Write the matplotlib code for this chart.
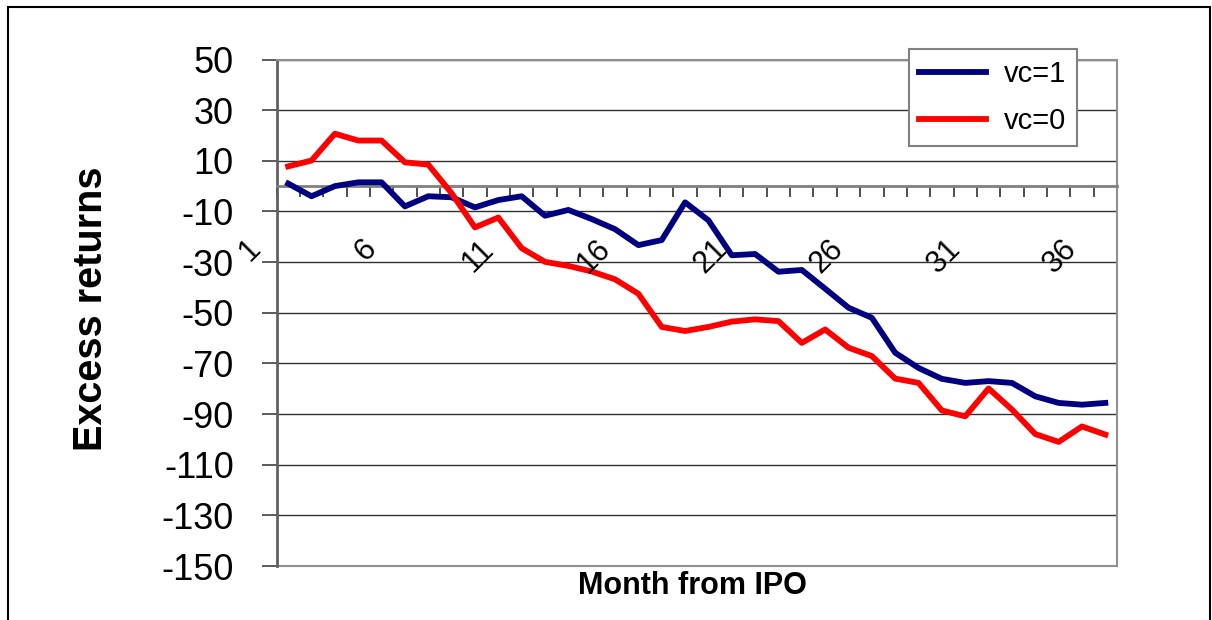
import numpy as np
import matplotlib
matplotlib.use('Agg')
import matplotlib.pyplot as plt
from matplotlib.transforms import ScaledTranslation
from matplotlib.patches import Rectangle

plt.rcParams['font.family'] = ['Liberation Sans', 'DejaVu Sans']
plt.rcParams['axes.unicode_minus'] = False

# ---- data ----
months = list(range(1, 37))
vc1 = [1, -4, 0, 1.5, 1.5, -8, -4, -4.4, -8.4, -5.5,
       -4, -11.7, -9.4, -13, -17, -23.3, -21.3, -6.4, -13.5, -27.3,
       -26.8, -33.8, -33.1, -40.5, -48, -52, -65.8, -71.8, -76.1, -77.7,
       -77, -77.7, -83, -85.6, -86.3, -85.6]
vc0 = [7.8, 10.1, 20.7, 18, 18, 9.4, 8.5, -2.8, -16.3, -12.4,
       -24.5, -29.9, -31.5, -33.7, -36.8, -42.5, -55.6, -57.2, -55.6, -53.5,
       -52.6, -53.3, -61.9, -56.6, -63.8, -67.1, -76, -77.7, -88.6, -90.9,
       -79.9, -88.2, -97.9, -101, -94.9, -98.1]
tick_months = [1, 6, 11, 16, 21, 26, 31, 36]
y_ticks = list(range(-150, 51, 20))

fig = plt.figure(figsize=(12.12, 6.2), dpi=100)
ax = fig.add_axes([276.5 / 1212, 1 - 566 / 620, (1117 - 276.5) / 1212, (566 - 59.5) / 620])

ax.plot(months, vc1, color='#000080', lw=4.2, label='vc=1', zorder=3)
ax.plot(months, vc0, color='#ff0000', lw=4.2, label='vc=0', zorder=3)

ax.set_xlim(0.5, 36.5)
ax.set_ylim(-150, 50)
ax.set_yticks(y_ticks)
ax.yaxis.grid(True, color='#303030', lw=1)

# plot area border (gray), category axis crosses at 0
for s in ['top', 'right']:
    ax.spines[s].set_color('#909090')
    ax.spines[s].set_linewidth(1.5)
ax.spines['left'].set_color('#606060')
ax.spines['left'].set_linewidth(2)
ax.spines['bottom'].set_position(('data', 0))
ax.spines['bottom'].set_color('#808080')
ax.spines['bottom'].set_linewidth(2)
ax.plot([0, 1], [0, 0], transform=ax.transAxes, color='#909090', lw=1.5, clip_on=False)

# tick marks between categories
ax.set_xticks(np.arange(0.5, 37, 1))
ax.set_xticklabels([])
ax.tick_params(axis='x', direction='out', length=8, width=1.2, color='#303030')
ax.tick_params(axis='y', direction='out', length=10.8, width=1.2, color='#404040',
               labelsize=26, pad=20)

# rotated category labels
offset = ScaledTranslation(-0.22, -0.48, fig.dpi_scale_trans)
for m in tick_months:
    ax.text(m, 0, str(m), transform=ax.transData + offset, rotation=45,
            ha='right', va='top', fontsize=22)

fig.text(91 / 1212, 1 - 309 / 620, 'Excess returns', rotation=90, ha='center', va='center',
         fontsize=28.5, fontweight='bold')
fig.text(692 / 1212, 1 - 586 / 620, 'Month from IPO', ha='center', va='center',
         fontsize=22, fontweight='bold')

leg = ax.legend(loc='upper right', bbox_to_anchor=(1077 / 1212, 1 - 49 / 620),
                bbox_transform=fig.transFigure, fontsize=21, fancybox=False,
                edgecolor='#808080', framealpha=1, handlelength=2.3, handletextpad=0.6,
                borderpad=0.37, labelspacing=0.65, borderaxespad=0)
leg.get_frame().set_linewidth(1.5)

# outer chart border
fig.add_artist(Rectangle((8 / 1212, -0.05), (1210 - 8) / 1212, 1 - 7 / 620 + 0.05,
                         transform=fig.transFigure, fill=False, ec='black', lw=1.5))

fig.savefig('out.png', dpi=100)
